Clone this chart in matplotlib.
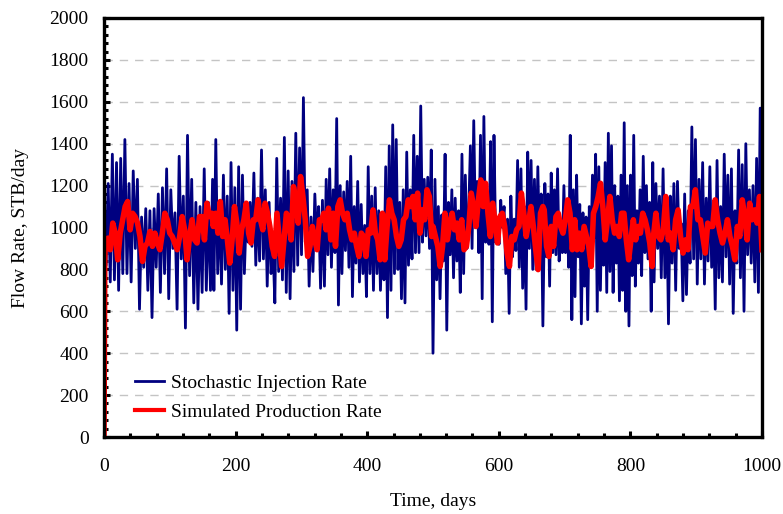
import numpy as np
import matplotlib
matplotlib.use("Agg")
import matplotlib.pyplot as plt
from matplotlib.ticker import MultipleLocator

plt.rcParams['font.family'] = ['Liberation Serif', 'DejaVu Serif']

# ---------------- data ----------------
# Stochastic injection rate, STB/day, in six consecutive time windows
inj_bounds = [(0, 165), (167, 332), (335, 500), (503, 667), (670, 834), (836, 1000)]
inj_1 = [1150, 820, 1210, 740, 1350, 750, 1310, 700, 1330, 780, 1420, 780, 1210, 740, 1270, 900,
         1230, 610, 1050, 810, 1090, 700, 1080, 570, 1090, 810, 1160, 690, 1190, 780, 1280, 660,
         1180, 900, 1070, 610, 1340, 850, 1150, 520, 1440, 770, 1230, 640, 1120, 610, 1100, 690,
         1280, 700, 1120, 700, 1230]
inj_2 = [700, 1420, 780, 1120, 730, 1250, 800, 1150, 590, 1310, 700, 1190, 510, 1290, 610, 1250,
         780, 1070, 930, 1120, 910, 1260, 820, 1140, 840, 1370, 850, 1180, 720, 1120, 780, 920,
         640, 1330, 790, 1140, 750, 1430, 690, 1270, 660, 1220, 790, 1450, 820, 1380, 870, 1620,
         930, 1180, 720, 1050, 790, 1160, 930, 1100, 710, 1130]
inj_3 = [720, 1230, 870, 1280, 810, 1180, 880, 1520, 630, 1200, 780, 1170, 890, 1220, 810, 1340,
         670, 1100, 830, 1220, 740, 1110, 780, 1010, 670, 1290, 780, 1150, 700, 1190, 780, 1080,
         700, 1030, 750, 1290, 570, 1390, 700, 1490, 780, 1420, 800, 1120, 660, 1180, 640, 1360,
         820, 1180, 850, 1440, 880, 1340, 880, 1580, 930, 1230, 960, 1240, 900, 1370, 400]
inj_4 = [1230, 750, 1100, 660, 1060, 840, 1350, 510, 1120, 870, 1180, 760, 1140, 840, 1080, 690,
         1350, 780, 1250, 900, 1070, 1390, 900, 1510, 1000, 1220, 880, 1440, 660, 1530, 930, 1150,
         920, 1410, 550, 1440, 930, 1040, 920, 1130, 1000, 1100, 780, 1040, 590, 1150, 860, 1040,
         890, 1320, 810, 1280, 710, 1100, 610, 1360, 900, 1320, 800, 1230, 800, 1290, 900, 1160, 530]
inj_5 = [1210, 860, 1160, 720, 1260, 880, 1180, 870, 1280, 840, 990, 880, 1200, 880, 1080, 810,
         1440, 560, 1180, 670, 1250, 860, 1110, 540, 1070, 720, 1050, 560, 1100, 880, 1250, 950,
         1350, 600, 1290, 700, 1150, 820, 1310, 690, 1450, 790, 1390, 690, 1200, 830, 1150, 650,
         1250, 700, 1500, 600, 1200, 530, 1250, 770, 1440, 720, 1080, 830, 1180, 770, 1340, 880,
         1200, 850, 1120, 600, 1310]
inj_6 = [740, 1210, 900, 1150, 760, 1280, 760, 1140, 540, 1150, 830, 1210, 700, 1220, 900, 1020,
         650, 1160, 680, 1080, 830, 1480, 850, 1420, 730, 1230, 850, 1310, 730, 1140, 840, 1290,
         810, 1100, 610, 1320, 760, 1100, 740, 1350, 860, 1250, 730, 1280, 590, 1080, 830, 1370,
         760, 1300, 600, 1400, 870, 1180, 830, 1200, 740, 1330, 690, 1570, 1000]

# Simulated production rate, STB/day
prod_start_days = [0, 1.2]
prod_start = [0, 850]
prod_bounds = [(2, 164), (166, 331), (334, 498), (500, 667), (669, 833), (835, 1000)]
prod_1 = [926, 949, 894, 1021, 973, 846, 973, 1037, 1100, 1124, 989, 1068, 1052, 1021, 957, 838,
          910, 926, 981, 910, 973, 926, 894, 973, 1068, 1037, 973, 957, 926, 894, 957, 1052,
          989, 846, 957, 1037, 941, 926, 1052, 1052, 941, 1116, 1052, 1068]
prod_2 = [1005, 1068, 973, 1124, 957, 1037, 941, 830, 941, 1100, 1021, 878, 989, 1037, 1116, 973,
          926, 1037, 1037, 1132, 1037, 989, 1116, 1068, 1005, 910, 862, 1068, 941, 814, 941, 1068,
          1037, 941, 1195, 1132, 1021, 1243, 1148, 1037, 862, 910, 1005, 941, 894, 1037, 1037]
prod_3 = [1068, 989, 1092, 941, 1068, 910, 1100, 1132, 1068, 1037, 1068, 989, 941, 973, 910, 862,
          973, 957, 862, 989, 973, 1084, 973, 941, 846, 1068, 846, 1005, 1132, 1068, 1037, 957,
          910, 941, 1037, 1052, 1132, 1100, 1148, 1037, 1164, 973, 1084, 1037, 1180, 1148, 957]
prod_4 = [1005, 957, 910, 814, 910, 1068, 941, 1021, 1068, 989, 1021, 941, 1037, 894, 910, 1005,
          1164, 1100, 1005, 1132, 1227, 1100, 1211, 1068, 957, 1116, 1021, 926, 1052, 1068, 1005, 878,
          814, 957, 941, 989, 1005, 1164, 1068, 957, 1021, 1100, 1005, 894, 799, 1068, 1100]
prod_5 = [1084, 910, 862, 1005, 910, 1052, 1068, 1005, 973, 1037, 1132, 1068, 894, 1037, 894, 973,
          894, 1005, 957, 910, 814, 1068, 1100, 1148, 1211, 1100, 941, 1037, 1148, 1037, 973, 1005,
          957, 1068, 1068, 941, 846, 941, 1037, 941, 1005, 973, 1068, 1037, 989, 926, 814]
prod_6 = [957, 1068, 957, 941, 989, 1148, 941, 973, 894, 1037, 1084, 957, 878, 941, 894, 1100,
          1100, 1180, 1037, 1037, 957, 878, 1021, 1005, 1005, 1132, 1037, 973, 926, 973, 1037, 957,
          910, 846, 1005, 957, 1132, 1052, 941, 1116, 1037, 1084, 1021, 1148, 894]

x_ticks = [0, 200, 400, 600, 800, 1000]
y_ticks = [0, 200, 400, 600, 800, 1000, 1200, 1400, 1600, 1800, 2000]

# ---------------- assemble series ----------------
def build(bounds, segs):
    xs, ys = [], []
    for (a, b), vals in zip(bounds, segs):
        xs.append(np.linspace(a, b, len(vals)))
        ys.append(np.asarray(vals, dtype=float))
    return np.concatenate(xs), np.concatenate(ys)

inj_x, inj_y = build(inj_bounds, [inj_1, inj_2, inj_3, inj_4, inj_5, inj_6])
px, py = build(prod_bounds, [prod_1, prod_2, prod_3, prod_4, prod_5, prod_6])
prod_x = np.concatenate([prod_start_days, px])
prod_y = np.concatenate([prod_start, py])

# ---------------- plot ----------------
fig = plt.figure(figsize=(7.83, 5.14), dpi=100)
ax = fig.add_axes([104 / 783, 1 - 437 / 514, 658 / 783, 419 / 514])

ax.plot(inj_x, inj_y, color='#000080', linewidth=2.0, label='Stochastic Injection Rate', zorder=3)
ax.plot(prod_x, prod_y, color='#FF0000', linewidth=4.0, label='Simulated Production Rate', zorder=4)

ax.set_xlim(0, 1000)
ax.set_ylim(0, 2000)
ax.set_xticks(x_ticks)
ax.set_yticks(y_ticks)
ax.xaxis.set_minor_locator(MultipleLocator(40))
ax.yaxis.set_minor_locator(MultipleLocator(40))

ax.yaxis.grid(True, which='major', linestyle=(0, (6, 5)), color='#c4c4c4', linewidth=1.0, zorder=0)
ax.set_axisbelow(True)

for s in ax.spines.values():
    s.set_linewidth(2.4)
    s.set_zorder(5)

ax.tick_params(axis='both', which='major', direction='in', length=4, width=2.2, labelsize=14)
ax.tick_params(axis='both', which='minor', direction='in', length=3, width=2.2)
ax.tick_params(axis='x', which='major', pad=15)
ax.tick_params(axis='y', which='major', pad=11)

ax.set_xlabel('Time, days', fontsize=14, labelpad=13)
ax.set_ylabel('Flow Rate, STB/day', fontsize=14, labelpad=15)

leg = ax.legend(loc='lower left', bbox_to_anchor=(0.035, 0.02), frameon=False, fontsize=14,
                handlelength=1.5, handletextpad=0.35, labelspacing=0.6, borderaxespad=0)
leg.get_lines()[1].set_linewidth(3.0)

fig.savefig('out.png', dpi=100)
